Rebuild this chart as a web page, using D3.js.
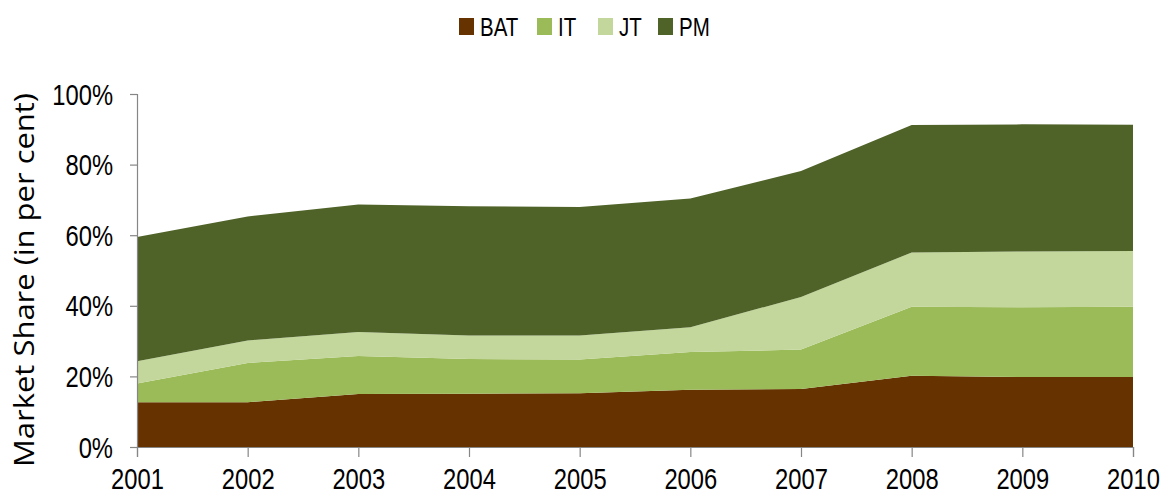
<!DOCTYPE html>
<html>
<head>
<meta charset="utf-8">
<script src="https://cdn.jsdelivr.net/npm/d3@7"></script>
<style>
  body { margin: 0; background: #fff; }
  text { font-family: "Liberation Sans", Arial, sans-serif; fill: #000; }
</style>
</head>
<body>
<div id="chart"></div>
<script>
'use strict';

// data (market share, per cent)
var years = [2001, 2002, 2003, 2004, 2005, 2006, 2007, 2008, 2009, 2010];
var seriesNames = ['BAT', 'IT', 'JT', 'PM'];
var bat = [12.7, 12.7, 15.0, 15.1, 15.2, 16.2, 16.4, 20.2, 19.8, 19.8];
var it  = [5.3, 11.1, 10.8, 9.8, 9.6, 10.7, 11.2, 19.5, 19.8, 19.9];
var jt  = [6.3, 6.4, 6.8, 6.7, 6.8, 7.0, 14.9, 15.4, 15.8, 15.8];
var pm  = [35.2, 35.1, 36.1, 36.6, 36.4, 36.5, 35.7, 36.1, 36.0, 35.8];
var yTicks = [0, 20, 40, 60, 80, 100];

var colors = ['#663300', '#9bbb59', '#c3d69b', '#4f6228'];

var width = 1163, height = 496;
var margin = {left: 137, right: 30, top: 94, bottom: 49};
var squeeze = 0.82; // the reference text is narrow, squash it horizontally

var svg = d3.select('#chart')
    .append('svg')
    .attr('width', width)
    .attr('height', height);

var rows = years.map(function (y, i) {
    return {year: y, BAT: bat[i], IT: it[i], JT: jt[i], PM: pm[i]};
});

var layers = d3.stack().keys(seriesNames)(rows);

var x = d3.scaleLinear()
    .domain([years[0], years[years.length - 1]])
    .range([margin.left, width - margin.right]);

var y = d3.scaleLinear()
    .domain([0, 100])
    .range([height - margin.bottom, margin.top]);

var area = d3.area()
    .x(function (d) { return x(d.data.year); })
    .y0(function (d) { return y(d[0]); })
    .y1(function (d) { return y(d[1]); });

svg.selectAll('path.layer')
    .data(layers)
    .enter()
    .append('path')
    .attr('class', 'layer')
    .attr('d', area)
    .attr('fill', function (d, i) { return colors[i]; });

// axes
var xAxis = svg.append('g')
    .attr('transform', 'translate(0,' + y(0) + ')')
    .call(d3.axisBottom(x).tickValues(years).tickFormat(d3.format('d')).tickSize(10).tickPadding(11));

var yAxis = svg.append('g')
    .attr('transform', 'translate(' + margin.left + ',0)')
    .call(d3.axisLeft(y).tickValues(yTicks).tickFormat(function (d) { return d + '%'; }).tickSize(7).tickPadding(17));

[xAxis, yAxis].forEach(function (g) {
    g.selectAll('.domain').attr('stroke', '#868686').attr('stroke-width', 1.2);
    g.selectAll('.tick line').attr('stroke', '#868686').attr('stroke-width', 1.2);
    g.selectAll('.tick text')
        .attr('fill', '#000')
        .style('font-size', '29px');
});
xAxis.selectAll('.tick text')
    .attr('dy', '0.71em')
    .attr('transform', 'scale(' + squeeze + ',1)');
yAxis.selectAll('.tick text')
    .attr('dy', '0.35em')
    .attr('x', -24 / squeeze)
    .attr('transform', 'scale(' + squeeze + ',1)');

// y title
svg.append('text')
    .attr('transform', 'translate(34,467) rotate(-90)')
    .attr('textLength', 374)
    .attr('lengthAdjust', 'spacingAndGlyphs')
    .style('font-size', '27px')
    .style('font-family', '"Open Sans", "Noto Sans", sans-serif')
    .text('Market Share (in per cent)');

// legend
var legendPos = [459, 537, 598, 658];
var legend = svg.selectAll('g.legend')
    .data(seriesNames)
    .enter()
    .append('g')
    .attr('class', 'legend')
    .attr('transform', function (d, i) { return 'translate(' + legendPos[i] + ',18)'; });

legend.append('rect')
    .attr('width', 15)
    .attr('height', 17)
    .attr('fill', function (d, i) { return colors[i]; });

legend.append('text')
    .attr('x', 21 / squeeze)
    .attr('y', 9)
    .attr('dy', '0.36em')
    .attr('transform', 'scale(' + squeeze + ',1)')
    .style('font-size', '25px')
    .text(function (d) { return d; });
</script>
</body>
</html>
